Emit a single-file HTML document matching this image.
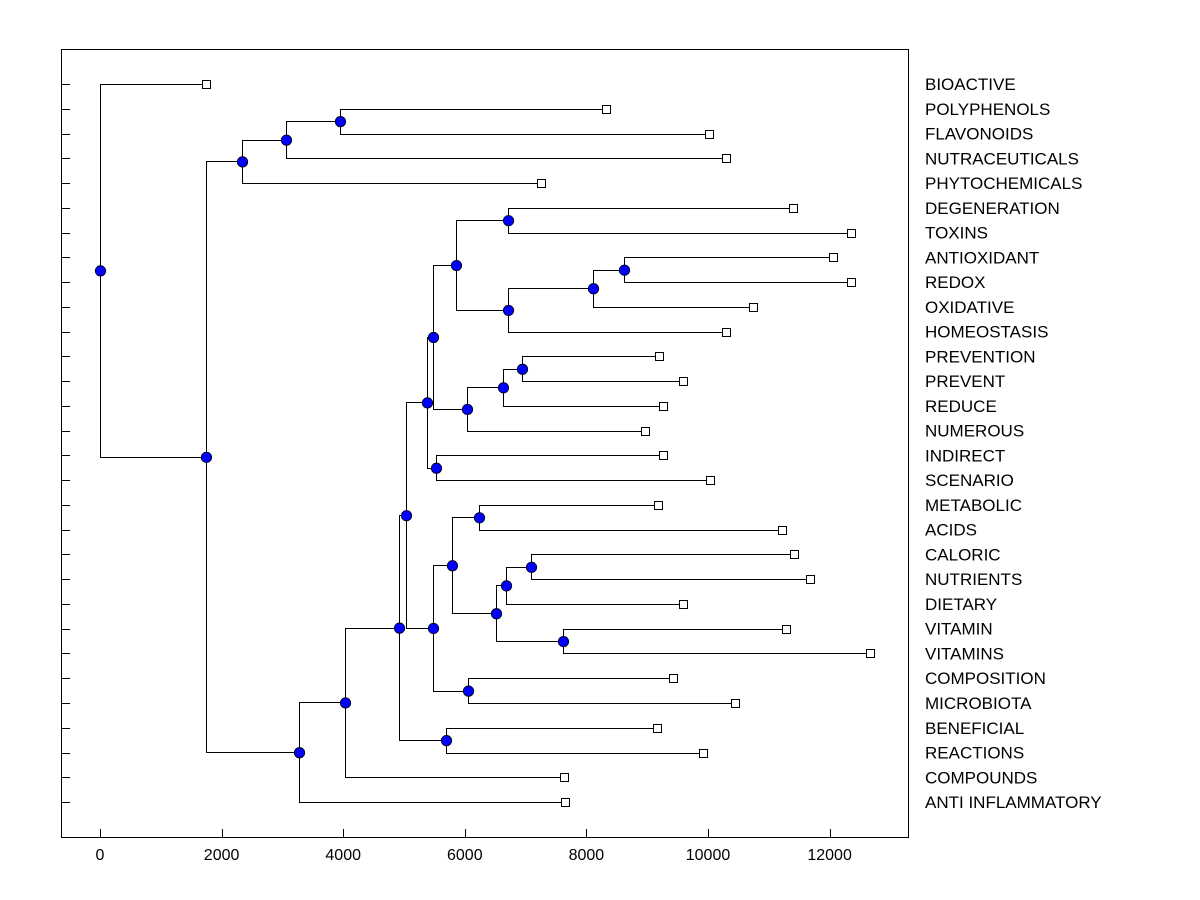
<!DOCTYPE html>
<html><head><meta charset="utf-8"><style>
body{margin:0;background:#fff;}
svg{display:block;font-family:"Liberation Sans",Arial,sans-serif;}
</style></head><body>
<svg id="chart" width="1200" height="900" xmlns="http://www.w3.org/2000/svg">
<rect x="61.5" y="49.5" width="847" height="788" fill="none" stroke="#000" stroke-width="1"/>
<g id="ticks"></g><g id="links"></g><g id="marks"></g><g id="labels"></g>
</svg>
<script>
const leafLabels = ["BIOACTIVE","POLYPHENOLS","FLAVONOIDS","NUTRACEUTICALS","PHYTOCHEMICALS","DEGENERATION","TOXINS","ANTIOXIDANT","REDOX","OXIDATIVE","HOMEOSTASIS","PREVENTION","PREVENT","REDUCE","NUMEROUS","INDIRECT","SCENARIO","METABOLIC","ACIDS","CALORIC","NUTRIENTS","DIETARY","VITAMIN","VITAMINS","COMPOSITION","MICROBIOTA","BENEFICIAL","REACTIONS","COMPOUNDS","ANTI INFLAMMATORY"];
const leafValues = [1743,8322,10016,10296,7253,11398,12352,12056,12352,10740,10296,9194,9589,9260,8964,9260,10033,9178,11217,11414,11678,9589,11283,12664,9424,10444,9161,9918,7632,7648];
// merges: node ids start at 30
const mergeA = [1,30,31,7,33,34,5,36,11,38,39,37,15,41,17,19,45,22,46,44,24,49,43,26,52,54,55,32,0];
const mergeB = [2,3,4,8,9,10,6,35,12,13,14,40,16,42,18,20,21,23,47,48,25,50,51,27,53,28,29,56,57];
const mergeHeight = [3947,3059,2336,8618,8109,6711,6711,5855,6941,6628,6036,5477,5526,5378,6234,7089,6678,7615,6513,5789,6053,5477,5033,5691,4918,4030,3273,1743,0];
const xTicks = [0,2000,4000,6000,8000,10000,12000];

const NS="http://www.w3.org/2000/svg";
const xs = v => 100 + v*0.0608;
const ys = i => 84 + i*24.76;
function mk(tag, attrs, parent){const e=document.createElementNS(NS,tag);for(const k in attrs)e.setAttribute(k,attrs[k]);document.getElementById(parent).appendChild(e);return e;}
const N=leafLabels.length;
const px=[],py=[];
for(let i=0;i<N;i++){px[i]=xs(leafValues[i]);py[i]=ys(i);}
for(let j=0;j<mergeA.length;j++){const a=mergeA[j],b=mergeB[j],id=N+j;px[id]=xs(mergeHeight[j]);py[id]=(py[a]+py[b])/2;}
for(let i=0;i<N;i++){
  const t=mk('line',{x1:62,x2:70,y1:Math.round(ys(i))+.5,y2:Math.round(ys(i))+.5,stroke:'#000'},'ticks');
  
  
  const l=mk('text',{x:925,y:ys(i)+6,'font-size':17},'labels');
  l.textContent=leafLabels[i];
  
  
}
xTicks.forEach(v=>{
  const t=mk('line',{x1:Math.round(xs(v))+.5,x2:Math.round(xs(v))+.5,y1:829,y2:837,stroke:'#000'},'ticks');
  
  
  const l=mk('text',{x:xs(v),y:860,'font-size':16,'text-anchor':'middle'},'labels');
  l.textContent=v;
  
  
});
for(let j=0;j<mergeA.length;j++){
  const id=N+j,a=mergeA[j],b=mergeB[j],x=Math.round(px[id])+.5;
  const d=`M${Math.round(px[a])} ${Math.round(py[a])+.5}H${x}V${Math.round(py[b])+.5}H${Math.round(px[b])}`;
  const p=mk('path',{d:d,fill:'none',stroke:'#000','stroke-width':1},'links');
  
  
}
for(let i=0;i<N;i++){
  const r=mk('rect',{x:Math.round(px[i])-3.5,y:Math.round(py[i])-3.5,width:8,height:8,fill:'#fff',stroke:'#000'},'marks');
  
  
}
for(let j=0;j<mergeA.length;j++){
  const id=N+j;
  const c=mk('circle',{cx:px[id]+.5,cy:py[id]+.5,r:5.2,fill:'#0000ff',stroke:'#000','stroke-width':0.8},'marks');
  
  
}
</script>
</body></html>
